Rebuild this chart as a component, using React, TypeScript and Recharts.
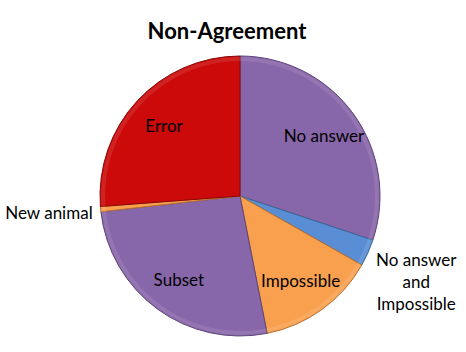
import { Cell, Pie, PieChart } from "recharts";

// share of each kind of non-agreement, clockwise from 12 o'clock
const categories = [
  "No answer",
  "No answer and Impossible",
  "Impossible",
  "Subset",
  "New animal",
  "Error",
];
const shares = [30.1, 3.1, 13.7, 26.3, 0.6, 26.2];
const labelLines = [
  ["No answer"],
  ["No answer", "and", "Impossible"],
  ["Impossible"],
  ["Subset"],
  ["New animal"],
  ["Error"],
];

const fills = ["#8866AA", "#5A8ED4", "#F9A04F", "#8866AA", "#F9A04F", "#CC0A0A"];
const edges = ["#5E4478", "#3C6699", "#B86E2E", "#5E4478", "#B86E2E", "#8A0606"];

const data = categories.map((name, i) => ({ name, value: shares[i] }));

const RAD = Math.PI / 180;
const FONT = "Lato, 'Open Sans', sans-serif";

function SliceLabel(props: any) {
  const { cx, cy, midAngle, outerRadius, percent, index } = props;
  const lines = labelLines[index];
  const cos = Math.cos(-midAngle * RAD);
  const sin = Math.sin(-midAngle * RAD);

  if (percent > 0.05) {
    const r = outerRadius * 0.74;
    const x = cx + r * cos;
    const y = cy + r * sin;
    return (
      <text
        x={x}
        y={y}
        textAnchor="middle"
        dominantBaseline="central"
        fill="#000"
        fontSize={17}
        fontFamily={FONT}
      >
        {lines[0]}
      </text>
    );
  }

  // thin slices get their label outside the pie
  const r = outerRadius + 8;
  const x = cx + r * cos;
  const y = cy + r * sin;
  const right = cos >= 0;
  const lineH = 22;
  const top = right ? y + 3 : y + 3;
  const tx = right ? x + 41 : x;
  return (
    <text x={tx} y={top} textAnchor={right ? "middle" : "end"} fill="#000" fontSize={17} fontFamily={FONT}>
      {lines.map((t, i) => (
        <tspan key={t} x={tx} y={top + i * lineH} dominantBaseline="central">
          {t}
        </tspan>
      ))}
    </text>
  );
}

export default function App() {
  return (
    <div style={{ position: "relative", width: 466, height: 352, background: "#fff" }}>
      <style>{"body{margin:0}"}</style>
      <div
        style={{
          position: "absolute",
          top: 17,
          left: 0,
          width: 454,
          textAlign: "center",
          fontFamily: FONT,
          fontWeight: 700,
          fontSize: 22,
          color: "#000",
        }}
      >
        Non-Agreement
      </div>
      <PieChart width={466} height={352} margin={{ top: 0, right: 0, bottom: 0, left: 0 }}>
        <Pie
          data={data}
          dataKey="value"
          nameKey="name"
          cx={240}
          cy={196}
          outerRadius={140}
          startAngle={90}
          endAngle={-270}
          label={SliceLabel}
          labelLine={false}
          isAnimationActive={false}
        >
          {data.map((d, i) => (
            <Cell key={d.name} fill={fills[i]} stroke={edges[i]} strokeWidth={1} />
          ))}
        </Pie>
        {/* soft bevel highlight along the rim */}
        <Pie
          data={data}
          dataKey="value"
          cx={240}
          cy={196}
          innerRadius={135}
          outerRadius={139}
          startAngle={90}
          endAngle={-270}
          stroke="none"
          fill="#ffffff"
          fillOpacity={0.1}
          isAnimationActive={false}
        />
      </PieChart>
    </div>
  );
}
